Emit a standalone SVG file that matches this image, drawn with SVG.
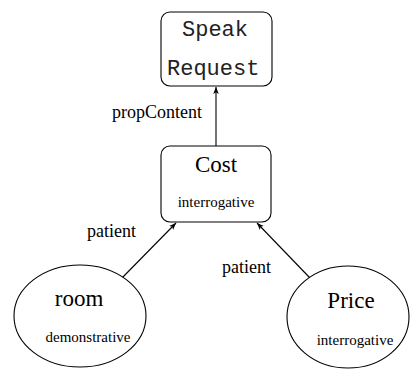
<svg xmlns="http://www.w3.org/2000/svg" width="410" height="370" viewBox="0 0 410 370">
  <style>
    .box { fill: #fff; stroke: #000; stroke-width: 1.1; }
    .edge { stroke: #000; stroke-width: 1.1; fill: none; marker-end: url(#arrow); }
    .serif { font-family: "Liberation Serif", "Times New Roman", serif; fill: #000; }
    .mono { font-family: "Liberation Mono", "Courier New", monospace; fill: #222; font-size: 22px; }
    .big { font-size: 23px; }
    .small { font-size: 15px; }
    .label { font-size: 18px; }
  </style>
  <defs>
    <marker id="arrow" viewBox="0 0 10 10" refX="10" refY="5" markerWidth="7" markerHeight="7" markerUnits="userSpaceOnUse" orient="auto">
      <path d="M0,1 L10,5 L0,9 L2.5,5 Z" fill="#000"/>
    </marker>
  </defs>

  <g id="edges">
    <line class="edge" x1="216" y1="146" x2="216" y2="87"/>
    <line class="edge" x1="119" y1="281" x2="176" y2="223"/>
    <line class="edge" x1="310" y1="278" x2="257" y2="223"/>
    <text class="serif label" x="112" y="118">propContent</text>
    <text class="serif label" x="87" y="237">patient</text>
    <text class="serif label" x="222" y="273">patient</text>
  </g>

  <g id="speak-request">
    <rect class="box" x="161" y="12" width="111" height="74" rx="9"/>
    <text class="mono" x="182" y="36">Speak</text>
    <text class="mono" x="167" y="75">Request</text>
  </g>

  <g id="cost">
    <rect class="box" x="161" y="146" width="110" height="76" rx="9"/>
    <text class="serif big" x="216" y="172" text-anchor="middle">Cost</text>
    <text class="serif small" x="216" y="207" text-anchor="middle">interrogative</text>
  </g>

  <g id="room">
    <ellipse class="box" cx="80" cy="316" rx="66" ry="51"/>
    <text class="serif big" x="79" y="306" text-anchor="middle">room</text>
    <text class="serif small" x="88" y="342" text-anchor="middle">demonstrative</text>
  </g>

  <g id="price">
    <ellipse class="box" cx="348" cy="317" rx="61" ry="51"/>
    <text class="serif big" x="351" y="308" text-anchor="middle">Price</text>
    <text class="serif small" x="355" y="345" text-anchor="middle">interrogative</text>
  </g>
</svg>
